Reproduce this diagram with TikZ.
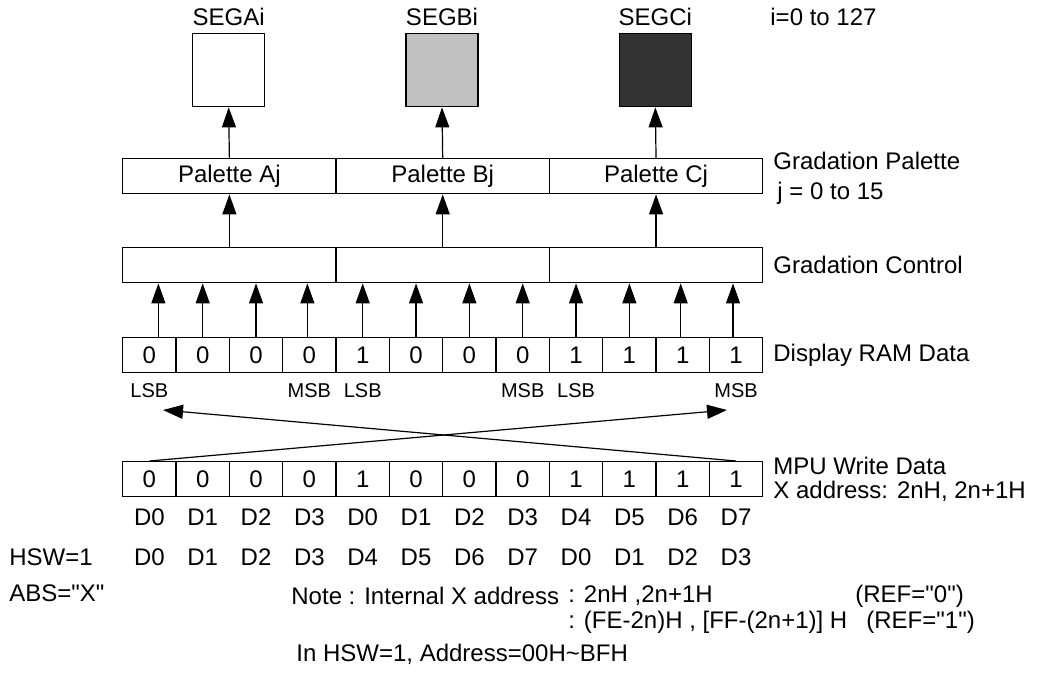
\documentclass[tikz,border=0pt]{standalone}
\usepackage{fontspec}
\setmainfont{Liberation Sans}
\usepackage{tikz}
\usetikzlibrary{positioning,arrows.meta,calc}

\definecolor{segmid}{HTML}{C0C0C0}
\definecolor{segdark}{HTML}{333333}

\begin{document}
\begin{tikzpicture}[x=0.5pt, y=-0.5pt, every node/.style={font=\fontsize{12}{14}\selectfont},
	box/.style={draw, line width=0.7pt, inner sep=0pt, anchor=north west, minimum height=17.5pt},
	cell/.style={box, minimum width=26.667pt},
	part/.style={box, minimum width=106.667pt},
	seg/.style={draw, line width=0.7pt, inner sep=0pt, anchor=north, minimum width=36pt, minimum height=36.5pt},
	arr/.style={-{Triangle[length=10pt,width=7pt]}, line width=0.6pt},
	side/.style={anchor=west, inner sep=0pt},
	tag/.style={font=\fontsize{10}{12}\selectfont, inner sep=0pt},]

\useasboundingbox (0,0) rectangle (1037,690);

\foreach \k/\c [count=\i from 0] in {A/white,B/segmid,C/segdark}{
    \node[part] (pal\k) at ({122+\i*213.333},158) {Palette \k j};
    \node[part] (ctl\k) at ({122+\i*213.333},247) {};
    \node[seg, fill=\c] (seg\k) at ({228.667+\i*213.333},33) {};
    \node (name\k) at ({228.667+\i*213.333},17) {SEG\k i};
    \draw[arr] (ctl\k.north) -- (pal\k.south);
    \draw[arr] (pal\k.north) -- (seg\k.south);
}
\node[side] (range) at (770,17) {i=0 to 127};

\foreach \v [count=\i] in {0,0,0,0,1,0,0,0,1,1,1,1}{
    \node[cell] (ram\i) at ({122+(\i-1)*53.333},337) {\v};
    \node[cell] (mpu\i) at ({122+(\i-1)*53.333},461) {\v};
}
\foreach \i/\dx in {1/4.5,2/0,3/0,4/-1,5/0,6/0,7/0,8/0,9/0,10/0,11/-1,12/-1.5}
    \draw[arr] ([xshift=\dx pt]ram\i.north) -- ([xshift=\dx pt]ram\i.north |- ctlA.south);

\foreach \i/\t in {1/LSB,4/MSB,5/LSB,8/MSB,9/LSB,12/MSB}
    \node[tag, below=5pt of ram\i] (bit\i) {\t};

\coordinate (tipL) at (163,410);
\coordinate (tipR) at (727,410);
\draw[arr] (mpu12.north) -- (tipL);
\draw[arr] (mpu1.north) -- (tipR);

\node[side] (palText) at (773,161) {Gradation Palette};
\node[side] (jText) at (777,193) {j = 0 to 15};
\node[side] (ctlText) at (773,265) {Gradation Control};
\node[side] (ramText) at (773,355) {Display RAM Data};
\node[side] (mpuText) at (773,466) {MPU Write Data};
\node[side] (addrText) at (773,491) {X address: 2nH, 2n+1H};

\coordinate (rowD) at (0,517);
\coordinate (rowH) at (0,557);
\foreach \t [count=\i] in {D0,D1,D2,D3,D0,D1,D2,D3,D4,D5,D6,D7}
    \node (dat\i) at (mpu\i |- rowD) {\t};
\foreach \t [count=\i] in {D0,D1,D2,D3,D4,D5,D6,D7,D0,D1,D2,D3}
    \node (hsw\i) at (mpu\i |- rowH) {\t};
\node[side] (hswText) at (9,557) {HSW=1};
\node[side] (absText) at (9,593) {ABS=\textquotedbl X\textquotedbl};

\node[side] (note) at (291,596) {Note : Internal X address};
\node[side] (adr1) at (568,596) {: 2nH ,2n+1H};
\node[side] (ref0) at (855,596) {(REF=\textquotedbl 0\textquotedbl)};
\node[side] (adr2) at (568,622) {: (FE-2n)H , [FF-(2n+1)] H};
\node[side] (ref1) at (866,622) {(REF=\textquotedbl 1\textquotedbl)};
\node[side] (area) at (296,654) {In HSW=1, Address=00H\textasciitilde BFH};
\end{tikzpicture}
\end{document}
